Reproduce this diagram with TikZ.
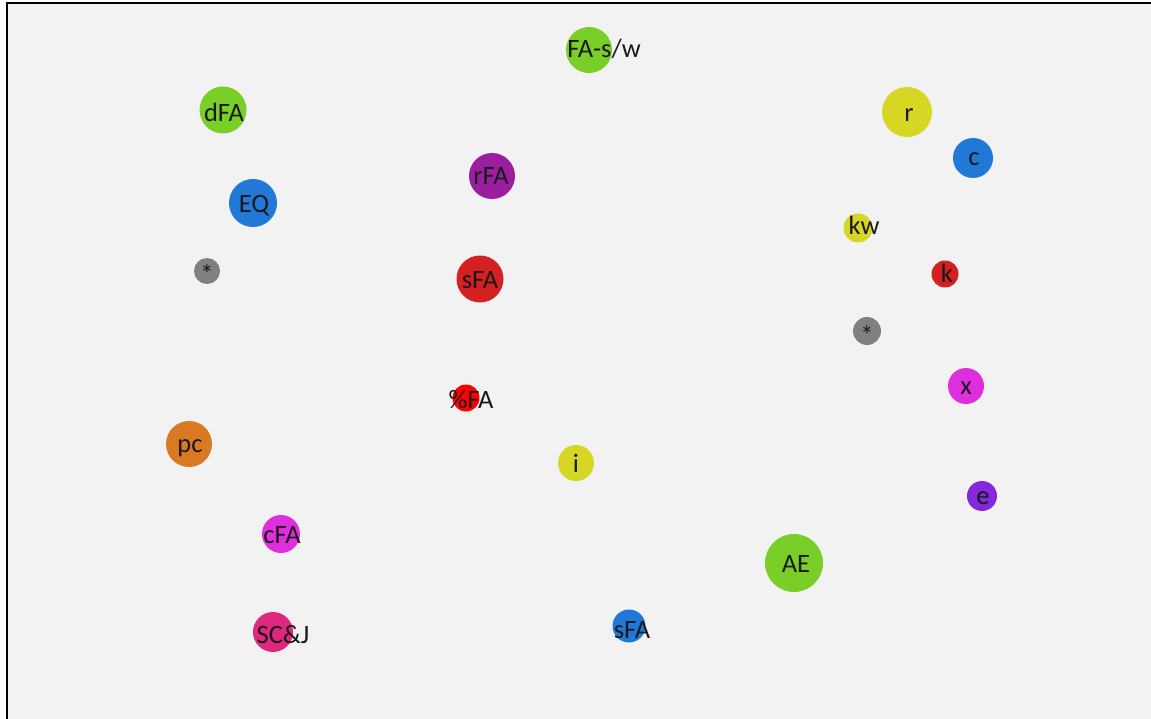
\documentclass[tikz,border=0pt]{standalone}
\usepackage{fontspec}
\setmainfont{Carlito}
\usepackage{xcolor}

\definecolor{bgrey}{HTML}{F2F2F2}
\definecolor{cgreen}{RGB}{122,206,40}
\definecolor{cyellow}{RGB}{214,214,36}
\definecolor{cblue}{RGB}{33,120,214}
\definecolor{cpurple}{RGB}{155,30,160}
\definecolor{cred}{RGB}{212,32,32}
\definecolor{cbright}{RGB}{255,0,0}
\definecolor{cgrey}{RGB}{128,128,128}
\definecolor{cmagenta}{RGB}{222,46,222}
\definecolor{corange}{RGB}{217,122,34}
\definecolor{cviolet}{RGB}{132,40,220}
\definecolor{cpink}{RGB}{222,40,126}

\tikzset{
  dot/.style={circle,inner sep=0pt,minimum size=#1},
  lbl/.style={anchor=base,inner sep=0pt,text=black!90,font=\fontsize{26.5}{31}\selectfont}
}

\begin{document}
\begin{tikzpicture}[x=1pt,y=-1pt]

\useasboundingbox (0,0) rectangle (1151,719);
\fill[bgrey] (6.5,3.5) rectangle (1151,719);
\draw[line width=2pt] (6.5,719) -- (6.5,3.5) -- (1151,3.5);

% left column
\node[dot=47,fill=cgreen] (dfa) at (223,110) {};
\node[lbl] (dfat) at (224,122) {dFA};
\node[dot=48,fill=cblue] (eq) at (253,203) {};
\node[lbl] (eqt) at (254,213) {EQ};
\node[dot=26,fill=cgrey] (astl) at (207,271) {};
\node[lbl] (astlt) at (207,284) {*};
\node[dot=46,fill=corange] (pc) at (189,444) {};
\node[lbl] (pct) at (190,452) {pc};
\node[dot=38,fill=cmagenta] (cfa) at (281,534) {};
\node[lbl] (cfat) at (282,543) {cFA};
\node[dot=40,fill=cpink] (scj) at (273,632) {};
\node[lbl] (scjt) at (283,643) {SC\&J};

% middle
\node[dot=46,fill=cgreen] (fasw) at (589,50) {};
\node[lbl] (faswt) at (604,58) {FA-s/w};
\node[dot=46,fill=cpurple] (rfa) at (492,176) {};
\node[lbl] (rfat) at (491,185) {rFA};
\node[dot=47,fill=cred] (sfar) at (480,279) {};
\node[lbl] (sfart) at (480,289) {sFA};
\node[dot=27,fill=cbright] (pfa) at (466,398) {};
\node[lbl] (pfat) at (471,408) {\%FA};
\node[dot=36,fill=cyellow] (i) at (576,463) {};
\node[lbl] (it) at (576,472) {i};
\node[dot=33,fill=cblue] (sfab) at (629,626) {};
\node[lbl] (sfabt) at (632,638) {sFA};
\node[dot=58,fill=cgreen] (ae) at (794,563) {};
\node[lbl] (aet) at (796,572) {AE};

% right column
\node[dot=50,fill=cyellow] (r) at (907,112) {};
\node[lbl] (rt) at (909,122) {r};
\node[dot=40,fill=cblue] (c) at (973,158) {};
\node[lbl] (ct) at (974,166) {c};
\node[dot=29,fill=cyellow] (kw) at (858,228) {};
\node[lbl] (kwt) at (864,235) {kw};
\node[dot=27,fill=cred] (k) at (945,274) {};
\node[lbl] (kt) at (947,283) {k};
\node[dot=28,fill=cgrey] (astr) at (867,331) {};
\node[lbl] (astrt) at (867,344) {*};
\node[dot=36,fill=cmagenta] (x) at (966,386) {};
\node[lbl] (xt) at (966,394) {x};
\node[dot=30,fill=cviolet] (e) at (982,496) {};
\node[lbl] (et) at (983,504) {e};

\end{tikzpicture}
\end{document}
